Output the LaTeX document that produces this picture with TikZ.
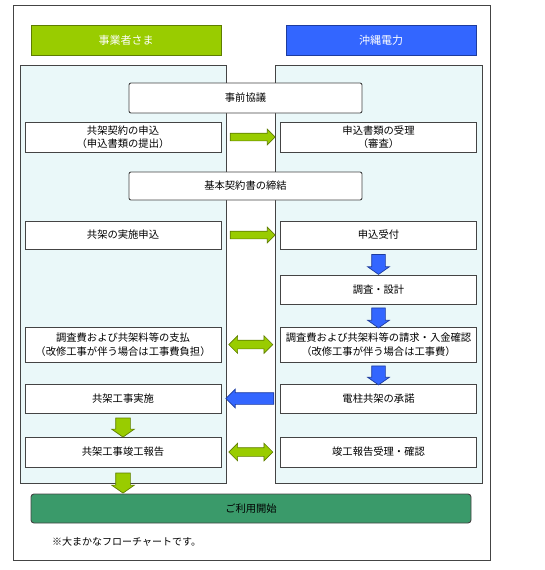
\documentclass[tikz,border=0pt]{standalone}
\usepackage{fontspec}
\setmainfont{Noto Sans CJK JP}
\usetikzlibrary{shapes.arrows,calc}
\definecolor{lgreen}{HTML}{99CC00}
\definecolor{dgreen}{HTML}{5E7D00}
\definecolor{lblue}{HTML}{3366FF}
\definecolor{dblue}{HTML}{1D3C9E}
\definecolor{lane}{HTML}{EAF8F9}
\definecolor{boxline}{HTML}{444444}
\definecolor{startfill}{HTML}{3A9A6A}
\begin{document}
\begin{tikzpicture}[x=1pt,y=-1pt,
	box/.style={draw=boxline,fill=white,line width=0.9pt,minimum width=196pt,minimum height=30pt,inner sep=0pt,align=center,font=\fontsize{10.3}{13.5}\selectfont},
	wide/.style={box,minimum width=233pt,rounded corners=2pt},
	head/.style={line width=0.9pt,minimum width=190pt,minimum height=30pt,inner sep=0pt,text=white,font=\fontsize{11}{13}\selectfont},
	harrow/.style={single arrow,inner sep=0pt,inner ysep=3.5pt,single arrow head extend=4pt,single arrow head indent=0pt,minimum height=45pt,line width=0.7pt},
	varrow/.style={single arrow,inner sep=0pt,inner ysep=6.5pt,single arrow head extend=4pt,single arrow head indent=0pt,shape border rotate=0,minimum height=20pt,line width=0.7pt,single arrow tip angle=110,rotate=-90},
	darrow/.style={double arrow,inner sep=0pt,inner ysep=4pt,double arrow head extend=4.5pt,double arrow head indent=0pt,minimum height=44pt,line width=0.7pt},
	gfill/.style={draw=dgreen,fill=lgreen},
	bfill/.style={draw=dblue,fill=lblue}]
	\useasboundingbox (0,0) rectangle (545,570);
	\draw[boxline,line width=0.9pt] (13,5) rectangle (490,560);
	\node[head,draw=dgreen,fill=lgreen] (biz) at (126,40) {事業者さま};
	\node[head,draw=dblue,fill=lblue] (okiden) at (381,40) {沖縄電力};
	\draw[boxline,fill=lane,line width=0.9pt] (20,65) rectangle (226,483);
	\draw[boxline,fill=lane,line width=0.9pt] (275,65) rectangle (482,483);
	\node[wide] (pre) at (245.5,98) {事前協議};
	\node[box] (apply) at (123,137) {共架契約の申込\\（申込書類の提出）};
	\node[box] (accept) at (378.5,137) {申込書類の受理\\（審査）};
	\node[wide,minimum height=28pt] (contract) at (245.5,186) {基本契約書の締結};
	\node[box,minimum height=28pt] (request) at (123,235) {共架の実施申込};
	\node[box,minimum height=28pt] (receipt) at (378.5,235) {申込受付};
	\node[box,minimum height=29pt] (survey) at (378.5,289.5) {調査・設計};
	\node[box,minimum height=35pt] (pay) at (123,344.5) {調査費および共架料等の支払\\（改修工事が伴う場合は工事費負担）};
	\node[box,minimum height=35pt] (bill) at (378.5,344.5) {調査費および共架料等の請求・入金確認\\（改修工事が伴う場合は工事費）};
	\node[box,minimum height=29pt] (work) at (123,398.5) {共架工事実施};
	\node[box,minimum height=29pt] (consent) at (378.5,398.5) {電柱共架の承諾};
	\node[box] (report) at (123,452) {共架工事竣工報告};
	\node[box] (check) at (378.5,452) {竣工報告受理・確認};
	\node[box,fill=startfill,minimum width=440pt,minimum height=29pt,rounded corners=3pt] (start) at (251,508.5) {ご利用開始};
	\node[anchor=west,inner sep=0pt,font=\fontsize{10}{12}\selectfont] (note) at (52,542) {※大まかなフローチャートです。};
	\node[harrow,gfill] at ($(apply.east)!.5!(accept.west)$) {};
	\node[harrow,gfill] at ($(request.east)!.5!(receipt.west)$) {};
	\node[varrow,bfill] at ($(receipt.south)!.5!(survey.north)$) {};
	\node[varrow,bfill] at ($(survey.south)!.5!(bill.north)$) {};
	\node[darrow,gfill] at ($(pay.east)!.5!(bill.west)$) {};
	\node[varrow,bfill,minimum height=19pt] at ($(bill.south)!.5!(consent.north)$) {};
	\node[harrow,bfill,rotate=180,inner ysep=5.5pt,single arrow head extend=3.5pt,minimum height=48pt,xshift=-2pt] at ($(work.east)!.5!(consent.west)$) {};
	\node[varrow,gfill,minimum height=19pt,inner ysep=7pt] at ($(work.south)!.5!(report.north)$) {};
	\node[darrow,gfill] at ($(report.east)!.5!(check.west)$) {};
	\node[varrow,gfill,inner ysep=7pt] at ($(report.south)!.5!(start.north -| report.south)$) {};
\end{tikzpicture}
\end{document}
